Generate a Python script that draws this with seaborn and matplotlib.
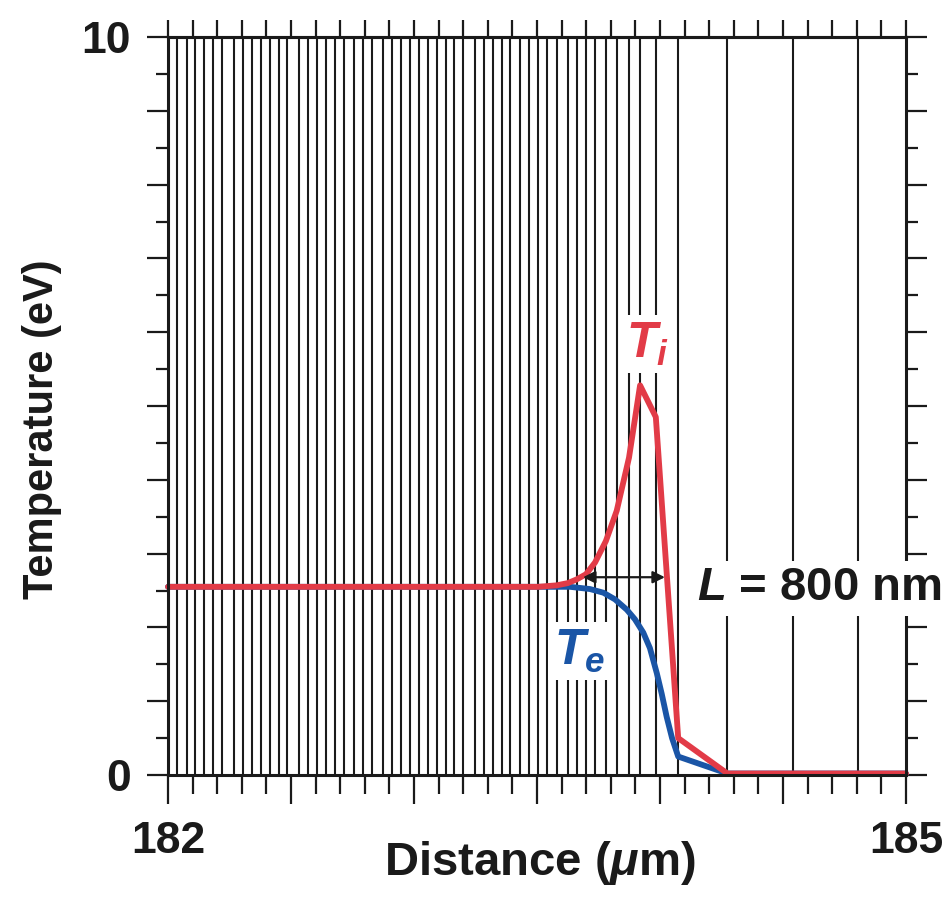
import numpy as np
import pandas as pd
import matplotlib
matplotlib.use("Agg")
import matplotlib.pyplot as plt
import seaborn as sns
from matplotlib.ticker import MultipleLocator, FuncFormatter

# ---- data ----
mesh_x = [182.038, 182.076, 182.110, 182.146, 182.182, 182.221, 182.268, 182.304,
          182.340, 182.377, 182.415, 182.451, 182.485, 182.534, 182.570, 182.607,
          182.642, 182.680, 182.717, 182.756, 182.792, 182.828, 182.875, 182.912,
          182.947, 182.984, 183.020, 183.058, 183.092, 183.129, 183.164, 183.200,
          183.248, 183.283, 183.320, 183.356, 183.392, 183.431, 183.469, 183.505,
          183.542, 183.580, 183.625, 183.661, 183.699, 183.736, 183.780, 183.824,
          183.874, 183.919, 183.983, 184.074, 184.274, 184.539, 184.806]

ti_x = [182.000, 183.431, 183.469, 183.505, 183.542, 183.580, 183.625, 183.661,
        183.699, 183.736, 183.780, 183.824, 183.874, 183.919, 183.983, 184.074,
        184.274, 185.000]
ti_vals = [2.55, 2.55, 2.55, 2.55, 2.56, 2.57, 2.60, 2.65, 2.72, 2.88, 3.17, 3.58,
           4.30, 5.28, 4.85, 0.50, 0.02, 0.02]

te_x = [182.000, 183.431, 183.634, 183.715, 183.770, 183.817, 183.865, 183.898,
        183.932, 183.959, 183.987, 184.007, 184.027, 184.049, 184.074, 184.274,
        185.000]
te_vals = [2.55, 2.55, 2.55, 2.52, 2.47, 2.38, 2.24, 2.11, 1.93, 1.72, 1.38, 1.10,
           0.79, 0.50, 0.25, 0.02, 0.02]

x_labels = {182.0: "182", 185.0: "185"}
y_labels = {0.0: "0", 10.0: "10"}

RED = "#E23B47"
BLUE = "#1A55A6"
INK = "#1A1A1A"

sns.set_theme(style="ticks")
plt.rcParams["font.family"] = ["Liberation Sans", "DejaVu Sans"]
plt.rcParams["font.weight"] = "bold"
plt.rcParams["mathtext.fontset"] = "custom"
plt.rcParams["mathtext.rm"] = "Liberation Sans:bold"
plt.rcParams["mathtext.it"] = "Liberation Sans:bold:italic"
plt.rcParams["mathtext.bf"] = "Liberation Sans:bold"

fig = plt.figure(figsize=(9.5, 9.0), dpi=100)
ax = fig.add_axes([168 / 950, 1 - 775 / 900, 738 / 950, 738 / 900])

# mesh lines
ax.vlines(mesh_x, 0, 10, color=INK, lw=1.5, zorder=1)

df_i = pd.DataFrame({"x": ti_x, "T": ti_vals})
df_e = pd.DataFrame({"x": te_x, "T": te_vals})
sns.lineplot(data=df_e, x="x", y="T", color=BLUE, lw=4.2, ax=ax, sort=False,
             zorder=3, clip_on=False)
sns.lineplot(data=df_i, x="x", y="T", color=RED, lw=4.2, ax=ax, sort=False,
             zorder=4, clip_on=False)

ax.set_xlim(182, 185)
ax.set_ylim(0, 10)

for s in ax.spines.values():
    s.set_linewidth(2.2)
    s.set_color(INK)
    s.set_zorder(5)

# y ticks
ax.yaxis.set_major_locator(MultipleLocator(1))
ax.yaxis.set_minor_locator(MultipleLocator(0.5))
ax.yaxis.set_major_formatter(FuncFormatter(lambda v, p: y_labels.get(round(v, 3), "")))
ax.tick_params(axis="y", which="both", left=True, right=True, direction="out",
               color=INK, width=1.6)
ax.tick_params(axis="y", which="major", length=15, pad=12, labelsize=32)
ax.tick_params(axis="y", which="minor", length=8.5)

# x ticks (bottom)
ax.xaxis.set_major_locator(MultipleLocator(0.5))
ax.xaxis.set_minor_locator(MultipleLocator(0.1))
ax.xaxis.set_major_formatter(FuncFormatter(lambda v, p: x_labels.get(round(v, 3), "")))
ax.tick_params(axis="x", which="both", bottom=True, top=False, direction="out",
               color=INK, width=1.6)
ax.tick_params(axis="x", which="major", length=21, pad=12, labelsize=32)
ax.tick_params(axis="x", which="minor", length=14)

# top ticks (all equal length)
top = ax.secondary_xaxis("top")
top.xaxis.set_major_locator(MultipleLocator(0.1))
top.tick_params(axis="x", which="major", direction="out", length=12, width=1.6,
                color=INK, labeltop=False)
top.spines["top"].set_linewidth(2.2)

for lab in ax.get_xticklabels() + ax.get_yticklabels():
    lab.set_fontweight("bold")
    lab.set_color(INK)

ax.set_xlabel(r"Distance ($\mu$m)", fontsize=34, fontweight="bold", color=INK)
ax.xaxis.set_label_coords(0.504, -0.119)
ax.xaxis.label.set_va("center")
ax.set_ylabel("Temperature (eV)", fontsize=30, fontweight="bold", color=INK)
ax.yaxis.set_label_coords(-0.171, 0.468)
ax.yaxis.label.set_va("center")

# labels with white boxes
box = dict(facecolor="white", edgecolor="none", pad=4)
ax.text(183.672, 1.68, r"$T_e$", color=BLUE, fontsize=36, ha="center", va="center",
        bbox=box, zorder=6)
ax.text(183.948, 5.84, r"$T_i$", color=RED, fontsize=36, ha="center", va="center",
        bbox=box, zorder=6)
ax.text(184.15, 2.53, r"$L$ = 800 nm", color=INK, fontsize=34, ha="left",
        va="center", bbox=dict(facecolor="white", edgecolor="none", pad=4),
        zorder=6, clip_on=False)

ax.annotate("", xy=(184.020, 2.68), xytext=(183.687, 2.68),
            arrowprops=dict(arrowstyle="<|-|>", color=INK, lw=1.6,
                            mutation_scale=18, shrinkA=0, shrinkB=0),
            zorder=6)

fig.savefig("out.png", dpi=100, facecolor="white")
